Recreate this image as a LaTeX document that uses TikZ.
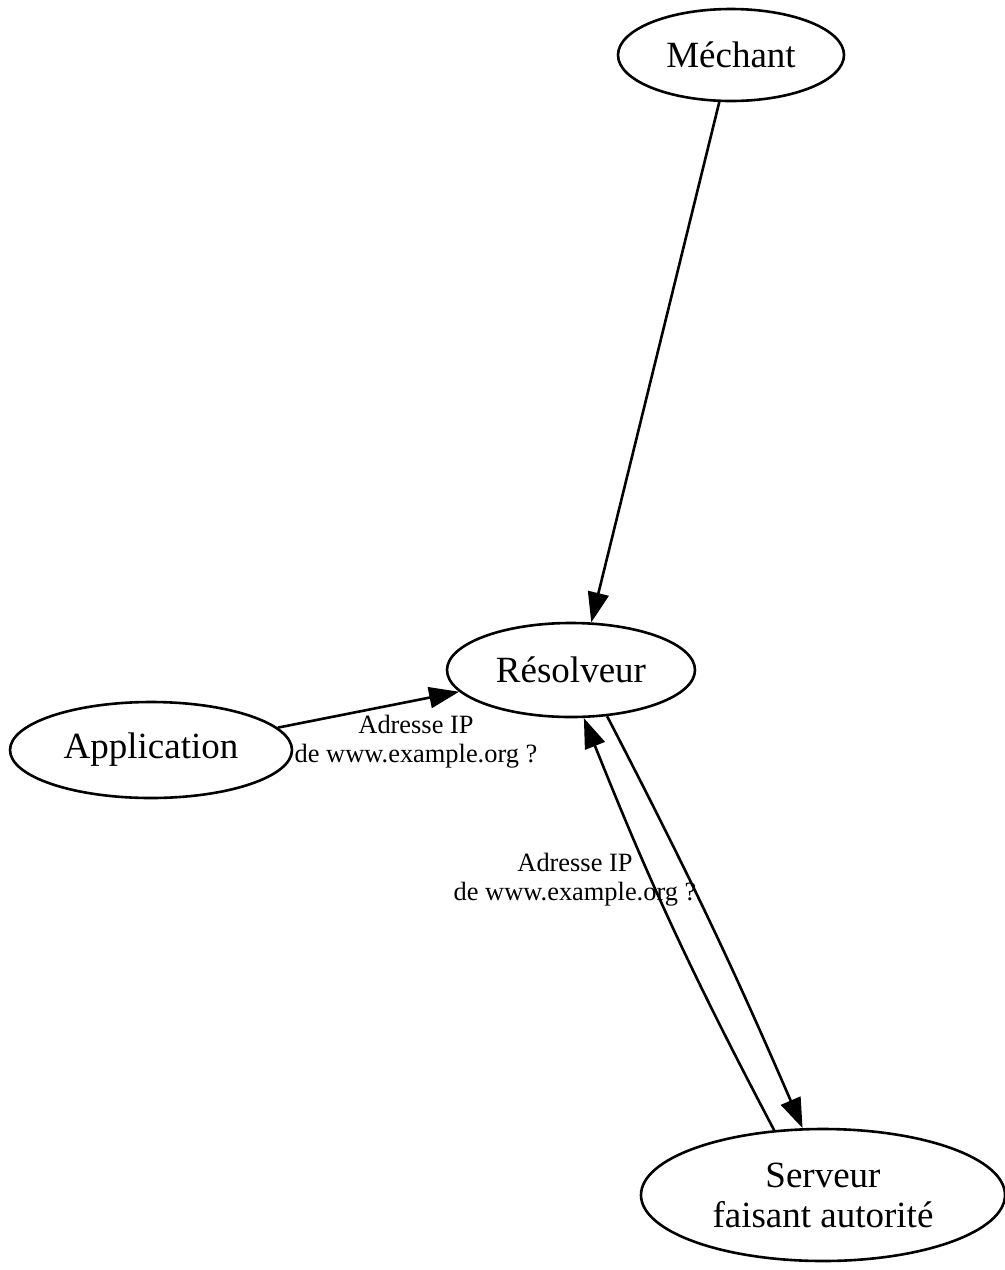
\documentclass[tikz,border=0pt]{standalone}
\usepackage{fontspec}
\setmainfont{Liberation Serif}
\usetikzlibrary{shapes.geometric,arrows.meta}
\begin{document}
\begin{tikzpicture}[x=0.5pt,y=-0.5pt,
  state/.style={draw,ellipse,line width=1.3pt,inner sep=0pt,align=center,
    font=\fontsize{18.5pt}{20pt}\selectfont},
  flow/.style={line width=1.3pt,-{Triangle[length=15pt,width=10.5pt]}},
  elabel/.style={align=center,font=\fontsize{13.2pt}{14.5pt}\selectfont}]
\useasboundingbox (0,0) rectangle (1005,1270);

% nodes
\node[state,minimum width=113pt,minimum height=46pt] (mech) at (731,55) {Méchant};
\node[state,minimum width=124pt,minimum height=47pt] (res) at (571,670) {Résolveur};
\node[state,minimum width=141pt,minimum height=48pt] (app) at (151,750) {Application};
\node[state,minimum width=182pt,minimum height=66pt] (srv) at (823,1195) {Serveur\\faisant autorité};

% connectors
\draw[flow] (mech.256.8) -- (res.67.1);
\draw[flow] (app.10.2) -- (res.191.2);
\draw[flow] (res.-52) to[bend left=2] (srv.107.6);
\draw[flow] (srv.127.2) to[bend left=3] (res.285.1);

% edge labels
\node[elabel] (lab1) at (416,742) {Adresse IP\\de www.example.org ?};
\node[elabel] (lab2) at (575,880) {Adresse IP\\de www.example.org ?};
\end{tikzpicture}
\end{document}
